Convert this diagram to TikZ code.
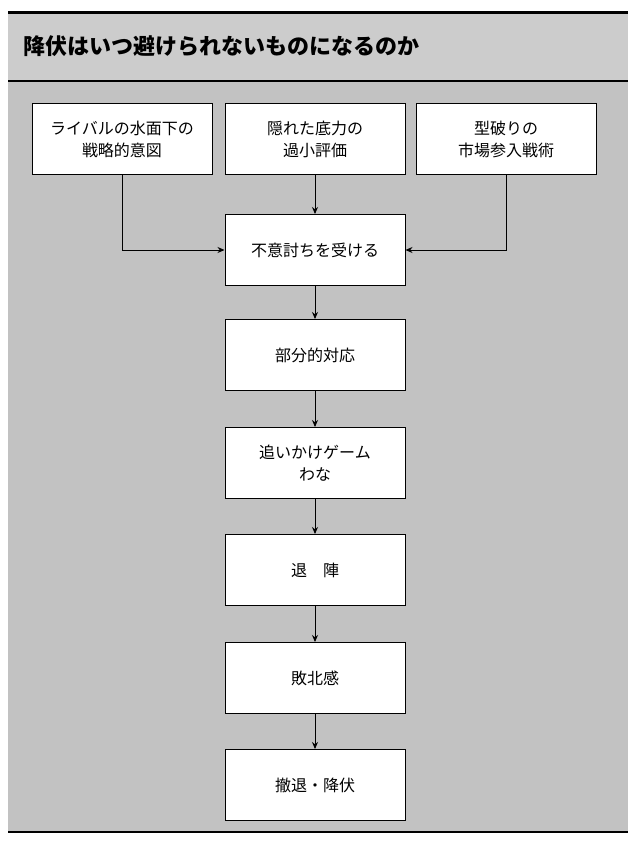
\documentclass[tikz,border=0pt]{standalone}
\usepackage{fontspec}
\usetikzlibrary{arrows.meta}
\newfontfamily\jp{Noto Sans CJK JP}
\begin{document}
\begin{tikzpicture}[x=1pt,y=-1pt,
  box/.style={draw=black,line width=1pt,fill=white,minimum width=180pt,minimum height=71pt,align=center,font=\jp\fontsize{16}{22}\selectfont,inner sep=2pt},
  arr/.style={line width=0.9pt,-{Stealth[length=7pt,width=6pt]}}]
\useasboundingbox (0,0) rectangle (636,852);
\fill[white] (0,0) rectangle (636,852);
\fill[black!20] (8,12) rectangle (628,80);
\fill[black!24] (8,82) rectangle (628,832);
\draw[line width=3pt] (8,12) -- (628,12);
\draw[line width=1.5pt] (8,81) -- (628,81);
\draw[line width=2pt] (8,832) -- (628,832);
\node[anchor=west,font=\jp\bfseries\fontsize{22}{26}\selectfont] (title) at (20,46) {降伏はいつ避けられないものになるのか};
\node[box] (a) at (122,139) {ライバルの水面下の\\戦略的意図};
\node[box] (b) at (315,139) {隠れた底力の\\過小評価};
\node[box] (c) at (506,139) {型破りの\\市場参入戦術};
\node[box] (d) at (315,250) {不意討ちを受ける};
\node[box] (e) at (315,355) {部分的対応};
\node[box] (f) at (315,463) {追いかけゲーム\\わな};
\node[box] (g) at (315,570) {退\quad 陣};
\node[box] (h) at (315,678) {敗北感};
\node[box] (i) at (315,785) {撤退・降伏};
\draw[arr] (a.south) |- (d.west);
\draw[arr] (c.south) |- (d.east);
\draw[arr] (b) -- (d);
\draw[arr] (d) -- (e);
\draw[arr] (e) -- (f);
\draw[arr] (f) -- (g);
\draw[arr] (g) -- (h);
\draw[arr] (h) -- (i);
\end{tikzpicture}
\end{document}
